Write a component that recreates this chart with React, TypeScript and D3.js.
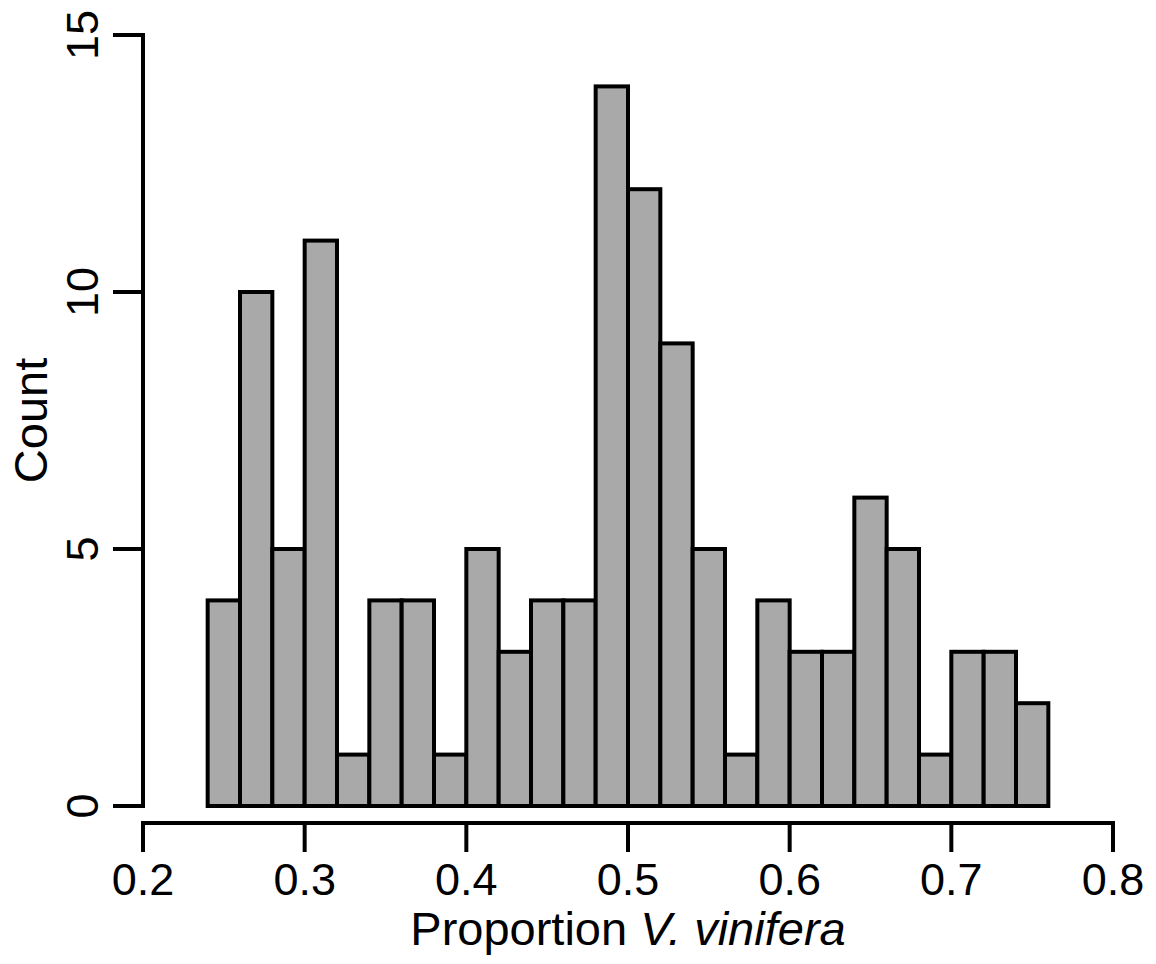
import React from "react";
import * as d3 from "d3";

const binStarts: number[] = [0.24,0.26,0.28,0.30,0.32,0.34,0.36,0.38,0.40,0.42,0.44,0.46,0.48,0.50,0.52,0.54,0.56,0.58,0.60,0.62,0.64,0.66,0.68,0.70,0.72,0.74];
const counts: number[] = [4,10,5,11,1,4,4,1,5,3,4,4,14,12,9,5,1,4,3,3,6,5,1,3,3,2];
const binWidth = 0.02;
const xTicks: number[] = [0.2,0.3,0.4,0.5,0.6,0.7,0.8];
const yTicks: number[] = [0,5,10,15];

export default function App() {
  const W = 1156, H = 964;
  const x = d3.scaleLinear().domain([0.2, 0.8]).range([143, 1113]);
  const y = d3.scaleLinear().domain([0, 15]).range([806, 35]);
  const font = "Arial, 'Liberation Sans', Helvetica, sans-serif";
  const sw = 4;
  const xAxisY = 823;
  const yAxisX = 143;
  return (
    <svg width={W} height={H} style={{ position: "absolute", left: 0, top: 0, background: "#fff" }}>
      <rect x={0} y={0} width={W} height={H} fill="#fff" />
      {binStarts.map((b, i) => (
        <rect key={i} x={x(b)} y={y(counts[i])} width={x(b + binWidth) - x(b)} height={y(0) - y(counts[i])}
          fill="#A9A9A9" stroke="#000" strokeWidth={sw} strokeLinejoin="miter" />
      ))}
      {/* y axis */}
      <line x1={yAxisX} x2={yAxisX} y1={y(15)} y2={y(0)} stroke="#000" strokeWidth={sw} strokeLinecap="square" />
      {yTicks.map((t) => (
        <g key={t}>
          <line x1={yAxisX - 30} x2={yAxisX} y1={y(t)} y2={y(t)} stroke="#000" strokeWidth={sw} />
          <text transform={`translate(98,${y(t)}) rotate(-90)`} textAnchor="middle" fontFamily={font} fontSize={45} fill="#000">{t}</text>
        </g>
      ))}
      {/* x axis */}
      <line x1={x(0.2)} x2={x(0.8)} y1={xAxisY} y2={xAxisY} stroke="#000" strokeWidth={sw} strokeLinecap="square" />
      {xTicks.map((t) => (
        <g key={t}>
          <line x1={x(t)} x2={x(t)} y1={xAxisY} y2={xAxisY + 29} stroke="#000" strokeWidth={sw} />
          <text x={x(t)} y={895} textAnchor="middle" fontFamily={font} fontSize={45} fill="#000">{t.toFixed(1)}</text>
        </g>
      ))}
      <text x={628} y={945} textAnchor="middle" fontFamily={font} fontSize={47} fill="#000">
        Proportion <tspan fontStyle="italic">V. vinifera</tspan>
      </text>
      <text transform={`translate(47,${(y(0) + y(15)) / 2}) rotate(-90)`} textAnchor="middle" fontFamily={font} fontSize={47} fill="#000">Count</text>
    </svg>
  );
}
